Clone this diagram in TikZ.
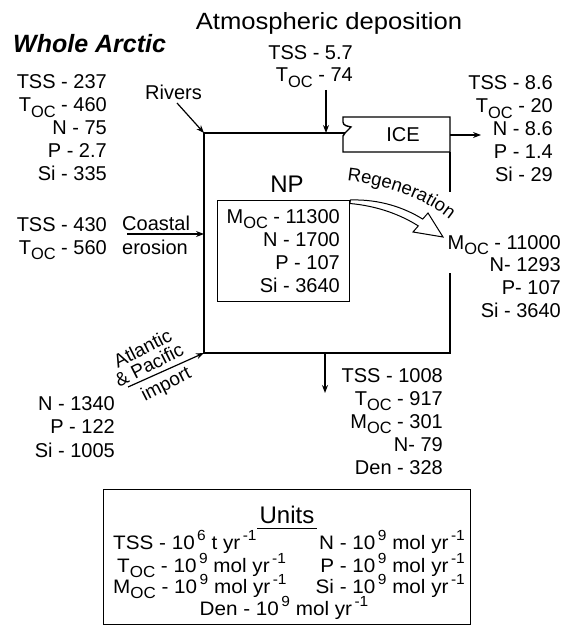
\documentclass[tikz,border=0pt]{standalone}
\usepackage{fontspec}
\setmainfont{Liberation Sans}
\usetikzlibrary{arrows.meta,decorations.text}
\newcommand{\oc}{\raisebox{-0.27em}{\scalebox{0.82}{OC}}}
\newcommand{\sups}[1]{\hspace{0.12em}\raisebox{0.42em}{\scalebox{0.75}{#1}}}
\newcommand{\ux}[1]{\scalebox{1.06}[1]{#1}}
\begin{document}
\begin{tikzpicture}[x=1pt,y=-1pt,
  dat/.style={font=\fontsize{20}{23}\selectfont, inner sep=0pt},
  unt/.style={font=\fontsize{19.5}{22}\selectfont, inner sep=0pt},
  rot/.style={rotate=27, font=\fontsize{19}{20}\selectfont, inner sep=0pt},
  arr/.style={line width=1.2pt, -{Stealth[length=8pt,width=6pt]}},
  frame/.style={line width=1.4pt},
]
\useasboundingbox (0,0) rectangle (566,631);

% titles
\node[anchor=base west, inner sep=0pt, font=\fontsize{25}{30}\selectfont\bfseries\itshape] (whole) at (13,53) {Whole Arctic};
\node[anchor=base, inner sep=0pt, font=\fontsize{23.5}{28}\selectfont] (atm) at (329,30) {\scalebox{1.09}[1]{Atmospheric deposition}};

% main box
\coordinate (tl) at (204,133);
\coordinate (bl) at (204,353);
\coordinate (br) at (450,353);
\coordinate (notch) at (345,133);
\draw[frame] (notch) -- (tl) -- (bl) -- (br) -- (450,273);
\draw[frame] (450,152) -- (450,192);

% ICE box
\draw[frame] (343,152) -- (343,136) -- (notch) -- (351,127) to[out=165,in=-90] (343,122) -- (343,117) -- (450,117) -- (450,152) -- cycle;
\node[dat, anchor=base] (ice) at (403,142) {ICE};

% NP box
\node[dat, anchor=base, font=\fontsize{24}{28}\selectfont] (np) at (287,193) {NP};
\node[draw, frame, anchor=north west, minimum width=132pt, minimum height=101pt, inner sep=0pt] (npbox) at (217,200) {};
\foreach \t [count=\i from 0] in {M\oc{} - 11300, N - 1700, P - 107, Si - 3640}
  \node[dat, anchor=base east] (np\i) at (340,223+23*\i) {\t};

% data blocks
\foreach \t [count=\i from 0] in {TSS - 237, T\oc{} - 460, N - 75, P - 2.7, Si - 335}
  \node[dat, anchor=base east] (riv\i) at (107,89+23*\i) {\t};
\foreach \t [count=\i from 0] in {TSS - 5.7, T\oc{} - 74}
  \node[dat, anchor=base east] (atm\i) at (353,60+22*\i) {\t};
\foreach \t [count=\i from 0] in {TSS - 8.6, T\oc{} - 20, N - 8.6, P - 1.4, Si - 29}
  \node[dat, anchor=base east] (icx\i) at (553,90+22.8*\i) {\t};
\foreach \t [count=\i from 0] in {TSS - 430, T\oc{} - 560}
  \node[dat, anchor=base east] (cst\i) at (107,231+23*\i) {\t};
\foreach \t [count=\i from 0] in {N - 1340, P - 122, Si - 1005}
  \node[dat, anchor=base east] (imp\i) at (115,410+23.5*\i) {\t};
\foreach \t [count=\i from 0] in {M\oc{} - 11000, N- 1293, P- 107, Si - 3640}
  \node[dat, anchor=base east] (reg\i) at (561,249+22.7*\i) {\t};
\foreach \t [count=\i from 0] in {TSS - 1008, T\oc{} - 917, M\oc{} - 301, N- 79, Den - 328}
  \node[dat, anchor=base east] (out\i) at (443,382+23*\i) {\t};

% labels
\node[dat, anchor=base west] (rivers) at (145,100) {Rivers};
\node[dat, anchor=base west] (coastal) at (122,230) {Coastal};
\node[dat, anchor=base west] (erosion) at (122,254) {erosion};
\node[rot] (atl1) at (142.5,348) {Atlantic};
\node[rot] (atl2) at (149,365) {\& Pacific};
\node[rot] (atl3) at (166.5,385) {import};

% arrows
\coordinate (rivS) at (177,103);
\coordinate (cstS) at (127,234);
\coordinate (cstE) at (204,234);
\coordinate (atlS) at (128,387);
\coordinate (atmS) at (326,90);
\coordinate (atmE) at (326,133);
\coordinate (iceS) at (450,135);
\coordinate (iceE) at (481,135);
\coordinate (outS) at (325,353);
\coordinate (outE) at (325,393);
\draw[arr] (rivS) -- (tl);
\draw[arr] (cstS) -- (cstE);
\draw[arr] (atlS) -- (bl);
\draw[arr] (atmS) -- (atmE);
\draw[arr] (iceS) -- (iceE);
\draw[arr] (outS) -- (outE);

% regeneration arrow
\draw[line width=1pt, fill=white, line join=miter]
  (npbox.north east) .. controls (380,199) and (405,208) .. (422.7,219.1)
  -- (428,213) -- (443,237) -- (413,232) -- (418.3,225.9)
  .. controls (401,215) and (378,206) .. (350,203.5) -- cycle;
\path[decorate, decoration={text along path, text align=left,
  text={|\fontsize{18.5}{20}\selectfont|Regeneration}}]
  (347,181) .. controls (385,185) and (435,200) .. (463,232);

% units box
\node[draw, frame, anchor=north west, minimum width=367pt, minimum height=135pt, inner sep=0pt] (unitbox) at (103,489) {};
\node[anchor=base, inner sep=0pt, font=\fontsize{24}{28}\selectfont] (units) at (287,523) {Units};
\draw[line width=1.6pt] (257,528.5) -- (317,528.5);
\node[unt, anchor=base west] (u1) at (113,549) {\ux{TSS - 10\sups{6} t yr\sups{-1}}};
\node[unt, anchor=base west] (u2) at (117,572) {\ux{T\oc{} - 10\sups{9} mol yr\sups{-1}}};
\node[unt, anchor=base west] (u3) at (113,593) {\ux{M\oc{} - 10\sups{9} mol yr\sups{-1}}};
\node[unt, anchor=base east] (u4) at (465,549) {\ux{N - 10\sups{9} mol yr\sups{-1}}};
\node[unt, anchor=base east] (u5) at (465,572) {\ux{P - 10\sups{9} mol yr\sups{-1}}};
\node[unt, anchor=base east] (u6) at (465,593) {\ux{Si - 10\sups{9} mol yr\sups{-1}}};
\node[unt, anchor=base] (u7) at (284,615) {\ux{Den - 10\sups{9} mol yr\sups{-1}}};
\end{tikzpicture}
\end{document}
